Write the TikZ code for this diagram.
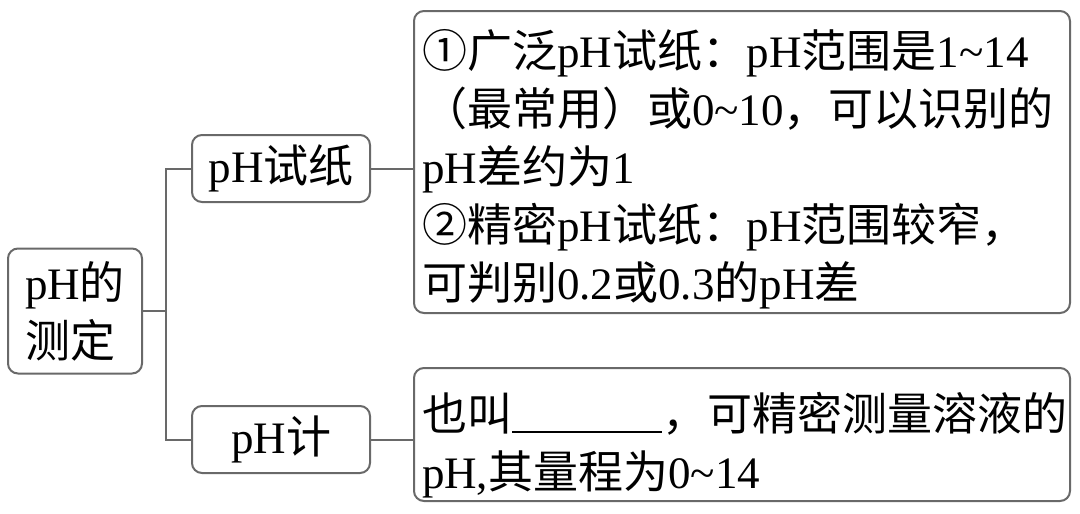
\documentclass[tikz,border=0pt]{standalone}
\usepackage{fontspec}
\setmainfont{Noto Sans CJK SC}
\newfontfamily\latinfont{Liberation Serif}
\usepackage{xcolor}
\definecolor{lineGray}{RGB}{105, 105, 105}
\newcommand{\en}[1]{{\latinfont #1}}
\tikzset{
    % 圆角框
    box/.style={
        rectangle,
        rounded corners=10pt,    % 圆角
        draw=lineGray,           % 边框颜色
        line width=2pt,
        fill=white,
        inner sep=8pt,
        font=\fontsize{45pt}{58pt}\selectfont
    },
    % 说明框(文字左对齐)
    note/.style={
        box,
        text width=640pt,
        inner xsep=8pt,
        inner ysep=0pt,
        align=left
    },
    % 连线
    link/.style={
        draw=lineGray,
        line width=2pt
    }
}
\begin{document}
\begin{tikzpicture}[x=1pt, y=-1pt]
    \useasboundingbox (0,0) rectangle (1080,514);

    % 根节点
    \node[box, minimum width=134pt, minimum height=125pt, align=left] (root) at (75,311) {
        \en{pH}的\\测定
    };

    % 第二层
    \node[box, minimum width=178pt, minimum height=67pt] (paper) at (281,168.5) {\en{pH}试纸};
    \node[box, minimum width=178pt, minimum height=67pt] (meter) at (281,439.5) {\en{pH}计};

    % 说明框(首行加高,使文字略向下)
    \node[note, minimum height=302pt] (paperNote) at (742,162) {
        \rule{0pt}{52pt}①广泛\en{pH}试纸：\en{pH}范围是\en{1\textasciitilde 14}\\
        （最常用）或\en{0\textasciitilde 10}，可以识别的\\
        \en{pH}差约为\en{1}\\
        ②精密\en{pH}试纸：\en{pH}范围较窄，\\
        可判别\en{0.2}或\en{0.3}的\en{pH}差
    };
    \node[note, minimum height=133pt] (meterNote) at (742,434.5) {
        \rule{0pt}{60pt}也叫\rule[-2pt]{150pt}{1.6pt}，可精密测量溶液的\\
        \en{pH,}其量程为\en{0\textasciitilde 14}
    };

    % 连线
    \coordinate (fork) at (166,311);
    \draw[link] (root.east) -- (fork);
    \draw[link] (paper.west) -| (fork) |- (meter.west);
    \draw[link] (paper.east) -- (paper.east -| paperNote.west);
    \draw[link] (meter.east) -- (meter.east -| meterNote.west);

\end{tikzpicture}
\end{document}
